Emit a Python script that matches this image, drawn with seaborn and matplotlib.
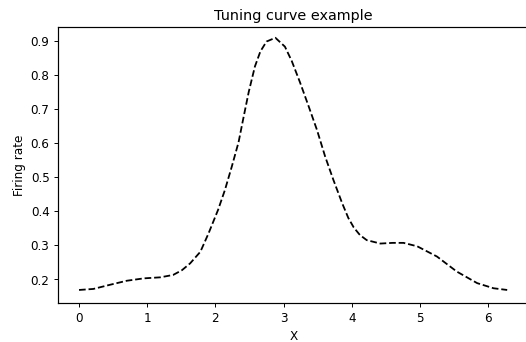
import matplotlib
matplotlib.use("Agg")
import matplotlib.pyplot as plt
import seaborn as sns
import pandas as pd

# Values
x_vals = [0.00, 0.21, 0.45, 0.70, 0.95, 1.19, 1.38, 1.51, 1.63, 1.78, 1.90, 2.04,
          2.14, 2.24, 2.34, 2.41, 2.49, 2.58, 2.66, 2.75, 2.88, 3.02,
          3.12, 3.24, 3.37, 3.49, 3.61, 3.73, 3.86, 3.95, 4.03, 4.12, 4.22, 4.42,
          4.60, 4.76, 4.96, 5.25, 5.54, 5.84, 6.08, 6.28]
rate_vals = [0.169, 0.172, 0.184, 0.196, 0.203, 0.206, 0.213, 0.227, 0.247, 0.281, 0.335, 0.404,
             0.462, 0.530, 0.602, 0.672, 0.750, 0.824, 0.868, 0.897, 0.908, 0.882,
             0.840, 0.778, 0.706, 0.638, 0.560, 0.492, 0.423, 0.380, 0.352, 0.330, 0.315, 0.305,
             0.307, 0.307, 0.297, 0.267, 0.223, 0.189, 0.174, 0.169]

title = "Tuning curve example"
xlabel = "X"
ylabel = "Firing rate"

df = pd.DataFrame({"x": x_vals, "rate": rate_vals})

DPI = 86.4
fig = plt.figure(figsize=(526.2 / DPI, 342.2 / DPI), dpi=DPI)
ax = fig.add_axes([58 / 526, (342 - 303.3) / 342, (528.6 - 58) / 526, (303.3 - 26.7) / 342])

sns.lineplot(data=df, x="x", y="rate", ax=ax, color="black", linestyle="--", linewidth=1.5)

for side in ["top", "left", "bottom"]:
    ax.spines[side].set_visible(True)
    ax.spines[side].set_color("black")
    ax.spines[side].set_linewidth(1.0)
ax.spines["right"].set_visible(False)

ax.set_xlim(-0.308, 6.597)
ax.set_ylim(0.130, 0.941)
ax.set_xticks([0, 1, 2, 3, 4, 5, 6])
ax.set_yticks([0.2, 0.3, 0.4, 0.5, 0.6, 0.7, 0.8, 0.9])
ax.set_title(title, fontsize=12)
ax.set_xlabel(xlabel, fontsize=10)
ax.set_ylabel(ylabel, fontsize=10)
ax.tick_params(labelsize=10)

fig.savefig("out.png", dpi=DPI)
